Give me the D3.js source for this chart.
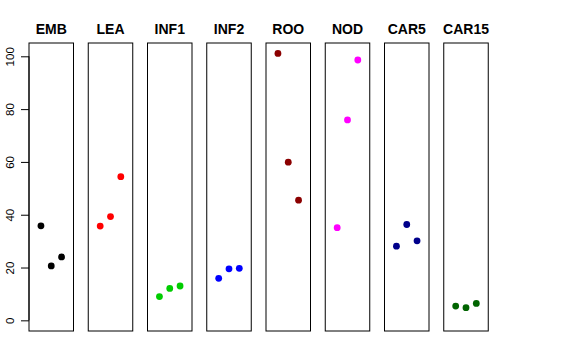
<!DOCTYPE html>
<html><head><meta charset="utf-8">
<script src="https://cdn.jsdelivr.net/npm/d3@7"></script>
<style>body{margin:0;background:#fff}</style>
</head><body>
<svg id="c" width="576" height="360"></svg>
<script>
const categories = ["EMB","LEA","INF1","INF2","ROO","NOD","CAR5","CAR15"];
const colors = ["#000000","#FF0000","#00CD00","#0000FF","#8B0000","#FF00FF","#00008B","#006400"];
const values = [
  [35.8, 20.6, 24.0],
  [35.7, 39.3, 54.4],
  [9.0, 12.1, 13.0],
  [15.9, 19.5, 19.7],
  [101.1, 59.9, 45.5],
  [35.1, 75.9, 98.6],
  [28.1, 36.3, 30.1],
  [5.4, 4.8, 6.4]
];
const yTicks = [0, 20, 40, 60, 80, 100];

(function(){
const svg = d3.select("#c");
const yTop = 43, yBot = 331;
const y = d3.scaleLinear().domain([-4.04, 105.04]).range([yBot, yTop]);
const panel = d3.scaleBand().domain(categories).range([29, 29 + 7*59.25 + 44.5]).paddingInner(14.75/59.25).paddingOuter(0);
const pw = panel.bandwidth();

categories.forEach((cat, i) => {
  const x0 = panel(cat);
  const x = d3.scaleLinear().domain([-0.16, 4.16]).range([x0, x0 + pw]);
  const g = svg.append("g");
  g.append("rect").attr("x", x0).attr("y", yTop).attr("width", pw).attr("height", yBot - yTop)
    .attr("fill", "none").attr("stroke", "#000").attr("stroke-width", 1);
  g.selectAll("circle").data(values[i]).enter().append("circle")
    .attr("cx", (d, j) => x(j + 1)).attr("cy", d => y(d)).attr("r", 3.4)
    .attr("fill", colors[i]);
  g.append("text").attr("x", x0 + pw/2).attr("y", 34).attr("text-anchor", "middle")
    .attr("font-family", "Liberation Sans, Arial, sans-serif").attr("font-weight", "bold")
    .attr("font-size", 14).text(cat);
});

const axis = d3.axisLeft(y).tickValues(yTicks).tickSize(8).tickPadding(4).tickFormat(d3.format("d"));
const ag = svg.append("g").attr("transform", "translate(29,0)").call(axis);
ag.select(".domain").attr("d", `M0,${y(0)}V${y(100)}`).attr("stroke", "#000");
ag.selectAll(".tick line").attr("stroke", "#000");
ag.selectAll(".tick text")
  .attr("font-family", "Liberation Sans, Arial, sans-serif").attr("font-size", 11.5).attr("fill", "#000")
  .attr("x", 0).attr("y", 0).attr("dy", 0)
  .attr("text-anchor", "middle")
  .attr("transform", "translate(-15.5,0) rotate(-90)");
})();
</script>
</body></html>
